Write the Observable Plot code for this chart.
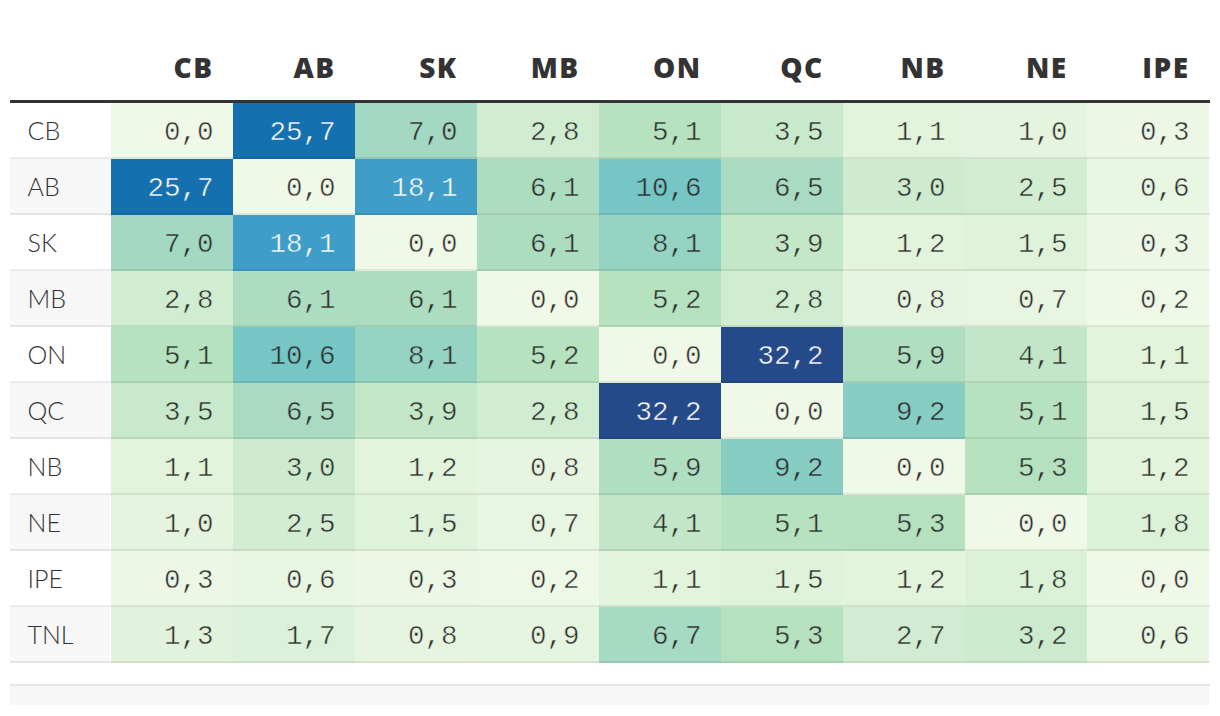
<!DOCTYPE html>
<html>
<head>
<meta charset="utf-8">
<script src="https://cdn.jsdelivr.net/npm/d3@7"></script>
<script src="https://cdn.jsdelivr.net/npm/@observablehq/plot@0.6"></script>
<style>
  html, body { margin: 0; padding: 0; background: #ffffff; }
  #chart svg { display: block; }
  #chart g[aria-label="x-axis tick label"] text { font-weight: 800; letter-spacing: 1.5px; }
  #footer { margin: 19px 10px 0 10px; width: 1200px; height: 19px; border-top: 2px solid #e6e6e6; background: #f7f7f7; }
</style>
</head>
<body>
<div id="chart"></div>
<div id="footer"></div>
<script>
// Provinces (rows = origin, columns = destination)
const rowNames = ["CB", "AB", "SK", "MB", "ON", "QC", "NB", "NE", "IPE", "TNL"];
const colNames = ["CB", "AB", "SK", "MB", "ON", "QC", "NB", "NE", "IPE"];

// Values per row, in the order of colNames
const rowCB  = [0.0, 25.7, 7.0, 2.8, 5.1, 3.5, 1.1, 1.0, 0.3];
const rowAB  = [25.7, 0.0, 18.1, 6.1, 10.6, 6.5, 3.0, 2.5, 0.6];
const rowSK  = [7.0, 18.1, 0.0, 6.1, 8.1, 3.9, 1.2, 1.5, 0.3];
const rowMB  = [2.8, 6.1, 6.1, 0.0, 5.2, 2.8, 0.8, 0.7, 0.2];
const rowON  = [5.1, 10.6, 8.1, 5.2, 0.0, 32.2, 5.9, 4.1, 1.1];
const rowQC  = [3.5, 6.5, 3.9, 2.8, 32.2, 0.0, 9.2, 5.1, 1.5];
const rowNB  = [1.1, 3.0, 1.2, 0.8, 5.9, 9.2, 0.0, 5.3, 1.2];
const rowNE  = [1.0, 2.5, 1.5, 0.7, 4.1, 5.1, 5.3, 0.0, 1.8];
const rowIPE = [0.3, 0.6, 0.3, 0.2, 1.1, 1.5, 1.2, 1.8, 0.0];
const rowTNL = [1.3, 1.7, 0.8, 0.9, 6.7, 5.3, 2.7, 3.2, 0.6];

const rowValues = [rowCB, rowAB, rowSK, rowMB, rowON, rowQC, rowNB, rowNE, rowIPE, rowTNL];

const table = rowNames.flatMap((r, i) =>
  colNames.map((c, j) => ({from: r, to: c, value: rowValues[i][j]}))
);

const fmt = (v) => v.toFixed(1).replace(".", ",");

const W = 1220, H = 665;
const mL = 110, mR = 10, mT = 103, mB = 2;
const frameW = W - mL - mR;
const rowH = (H - mT - mB) / rowNames.length;
const colW = frameW / colNames.length;
const rightPad = 20;

const chart = Plot.plot({
  width: W,
  height: H,
  marginTop: mT,
  marginBottom: mB,
  marginLeft: mL,
  marginRight: mR,
  style: {fontFamily: "'Open Sans', 'Lato', sans-serif", background: "#ffffff", color: "#333"},
  x: {domain: colNames, padding: 0, axis: null},
  y: {domain: rowNames, padding: 0, axis: null},
  color: {
    type: "linear",
    domain: [0, 1.1, 2.8, 5.1, 7.0, 10.6, 18.1, 25.7, 32.2],
    range: ["#f0f9e8", "#e3f4dd", "#d0ecd1", "#b7e2bf", "#a3d9c2", "#75c6c5", "#409dc8", "#1570b0", "#254a8a"],
    interpolate: "rgb"
  },
  marks: [
    // alternating stripe for the row-label column
    Plot.cell(rowNames.filter((d, i) => i % 2 === 1), {
      y: (d) => d, fill: "#f7f7f7", insetLeft: -(mL - 10), insetRight: frameW
    }),
    // heat cells
    Plot.cell(table, {x: "to", y: "from", fill: "value"}),
    // row separators
    Plot.cell(rowNames, {
      y: (d) => d, fill: "#000", fillOpacity: 0.075,
      insetTop: rowH - 2, insetLeft: -(mL - 10)
    }),
    // thick header rule
    Plot.cell(rowNames.slice(0, 1), {
      y: (d) => d, fill: "#333", insetTop: -3, insetBottom: rowH, insetLeft: -(mL - 10)
    }),
    // header labels
    Plot.axisX({
      anchor: "top", tickSize: 0, tickPadding: 26, label: null,
      textAnchor: "end", dx: colW / 2 - rightPad,
      fontSize: 28, fill: "#333", fontWeight: 800
    }),
    // row labels
    Plot.text(rowNames, {
      y: (d) => d, text: (d) => d, frameAnchor: "left", textAnchor: "start",
      dx: -(mL - 27), fontSize: 25, fill: "#333", fontWeight: 300,
      fontFamily: "Lato, 'Open Sans', sans-serif",
      style: "letter-spacing: 1.2px"
    }),
    // values (cell-coloured outline painted over the fill keeps the digits light)
    Plot.text(table, {
      x: "to", y: "from", text: (d) => fmt(d.value),
      fill: (d) => (d.value > 15 ? "#ffffff" : "#2e2e2e"),
      stroke: "value", strokeWidth: 0.5, paintOrder: "normal",
      textAnchor: "end", dx: colW / 2 - rightPad,
      fontSize: 27.5, fontFamily: "'Liberation Mono', 'DejaVu Sans Mono', monospace"
    })
  ]
});

document.getElementById("chart").appendChild(chart);
</script>
</body>
</html>
